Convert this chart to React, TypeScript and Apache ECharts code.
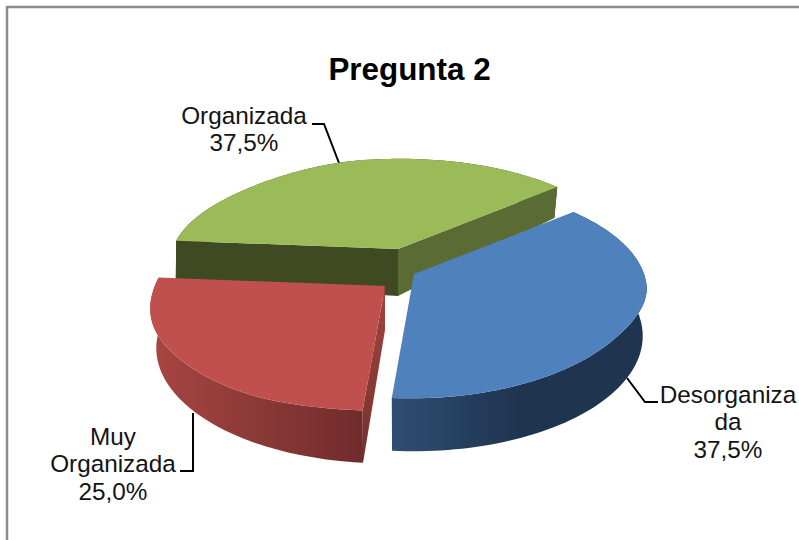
import React, { useEffect, useRef } from "react";
import * as echarts from "echarts";

const titleText = "Pregunta 2";
const categories = ["Desorganizada", "Muy Organizada", "Organizada"];
const labelLines = [["Desorganiza", "da"], ["Muy", "Organizada"], ["Organizada"]];
const shares = [37.5, 25.0, 37.5];

const START_DEG = -40.3;
const RX = 230;
const RY = 105.4;
const PERSP = 0.157;
const DEPTH = 44;
const INSET = 0.982;
const STEPS = 90;

const apexes = [[414, 274], [385, 286], [398, 249]];
const apexDepths = [44, 44, 47];
const topColors = ["#4F81BD", "#C0504D", "#9BBB59"];
const wallStops = [
  ["#2F4D72", "#1F344F", "#1F344F"],
  ["#A84643", "#8B3937", "#702B2B"],
  ["#3F4A22", "#3F4A22", "#3F4A22"],
];
// small corrections of the drawn rim, as the reference's perspective is not a pure ellipse
const rimFix = [
  [[-41, 1], [5, 1], [38, 0.97], [95, 0.995]],
  [[94, 1], [123, 1.025], [150, 1.02], [185, 1]],
  [[184, 0.98], [222, 0.96], [262, 0.99], [320, 1]],
];
const labelPos = [[728, 394], [113, 436], [244, 115]];
const leaders = [
  [[627, 378], [645, 402], [658, 402]],
  [[193, 413], [193, 471], [180, 471]],
  [[312, 124], [324, 124], [339, 163]],
];
const drawOrder = [2, 1, 0];

const fmt = (v: number) => v.toFixed(1).replace(".", ",") + "%";

function fixAt(i: number, deg: number) {
  const t = rimFix[i];
  for (let k = 0; k < t.length - 1; k++) {
    if (deg >= t[k][0] && deg <= t[k + 1][0]) {
      const f = (deg - t[k][0]) / (t[k + 1][0] - t[k][0]);
      const s = (1 - Math.cos(Math.PI * f)) / 2;
      return t[k][1] + (t[k + 1][1] - t[k][1]) * s;
    }
  }
  return 1;
}

function project(i: number, deg: number, low: boolean) {
  const [ax, ay] = apexes[i];
  const t = (deg * Math.PI) / 180;
  const w = 1 - PERSP * Math.sin(t);
  let x = (RX * Math.cos(t)) / w;
  let y = (RY * Math.sin(t)) / w;
  if (low) {
    x *= INSET;
    y += w < 1 ? DEPTH / w : DEPTH / Math.pow(w, 3.7);
  } else {
    const f = fixAt(i, deg);
    x *= f;
    y *= f;
  }
  return [ax + x, ay + y];
}

function rim(i: number, a: number, b: number, low: boolean) {
  const pts: number[][] = [];
  for (let k = 0; k <= STEPS; k++) pts.push(project(i, a + ((b - a) * k) / STEPS, low));
  return pts;
}

const grad = (stops: string[], vertical = false) =>
  new echarts.graphic.LinearGradient(0, 0, vertical ? 0 : 1, vertical ? 1 : 0, stops.map((c, i) => ({ offset: i / (stops.length - 1), color: c })));

export default function App() {
  const ref = useRef<HTMLDivElement>(null);
  useEffect(() => {
    const chart = echarts.init(ref.current!, undefined, { renderer: "svg" });
    const total = shares.reduce((a, b) => a + b, 0);
    const starts: number[] = [];
    let acc = START_DEG;
    shares.forEach((v) => {
      starts.push(acc);
      acc += (v / total) * 360;
    });

    const renderItem = (params: any, api: any) => {
      const i = drawOrder[params.dataIndex];
      const v = api.value(1);
      const a = starts[i];
      const b = a + (v / total) * 360;
      const [ax, ay] = apexes[i];
      const topRim = rim(i, a, b, false);
      const lowRim = rim(i, a, b, true);
      const apexLow = [ax, ay + apexDepths[i]];
      const children: any[] = [];
      children.push({
        type: "polygon",
        shape: { points: [...topRim, ...lowRim.slice().reverse()] },
        style: { fill: grad(wallStops[i]) },
      });
      if (i === 1) {
        children.push({
          type: "polygon",
          shape: { points: [[ax, ay], topRim[0], lowRim[0], apexLow] },
          style: { fill: grad(["#A5443F", "#74302E"], true) },
        });
      }
      if (i === 2) {
        children.push({
          type: "polygon",
          shape: { points: [[ax, ay], topRim[STEPS], lowRim[STEPS], apexLow] },
          style: { fill: "#5A6B33" },
        });
        children.push({
          type: "polygon",
          shape: { points: [[ax, ay], topRim[0], lowRim[0], apexLow] },
          style: { fill: "#3F4A22" },
        });
      }
      children.push({
        type: "polygon",
        shape: { points: [[ax, ay], ...topRim] },
        style: { fill: topColors[i] },
      });
      return { type: "group", children };
    };

    const labelGraphics: any[] = [];
    categories.forEach((_, i) => {
      const lines = [...labelLines[i], fmt(shares[i])];
      lines.forEach((line, j) => {
        labelGraphics.push({
          type: "text",
          x: labelPos[i][0],
          y: labelPos[i][1] + j * 27.5,
          style: { text: line, fill: "#141414", font: '24.3px "Liberation Sans", Arial, sans-serif', textAlign: "center", textVerticalAlign: "middle" },
        });
      });
      labelGraphics.push({
        type: "polyline",
        shape: { points: leaders[i] },
        style: { stroke: "#000000", lineWidth: 2, fill: "none" },
      });
    });

    chart.setOption({
      animation: false,
      backgroundColor: "#ffffff",
      title: {
        text: titleText,
        left: 404.5,
        top: 48.5,
        textAlign: "center",
        textStyle: { fontFamily: '"Liberation Sans", Arial, sans-serif', fontSize: 31.4, fontWeight: "bold", color: "#000000" },
      },
      graphic: [
        { type: "polyline", shape: { points: [[7, 540], [7, 7], [799, 7]] }, style: { stroke: "#8C8C8C", lineWidth: 2.5, fill: "none" } },
        ...labelGraphics,
      ],
      series: [
        {
          type: "custom",
          coordinateSystem: "none",
          renderItem,
          data: drawOrder.map((i) => [categories[i], shares[i]]),
          silent: true,
        },
      ],
    });
    return () => chart.dispose();
  }, []);
  return <div ref={ref} style={{ position: "fixed", left: 0, top: 0, width: 799, height: 540 }} />;
}
